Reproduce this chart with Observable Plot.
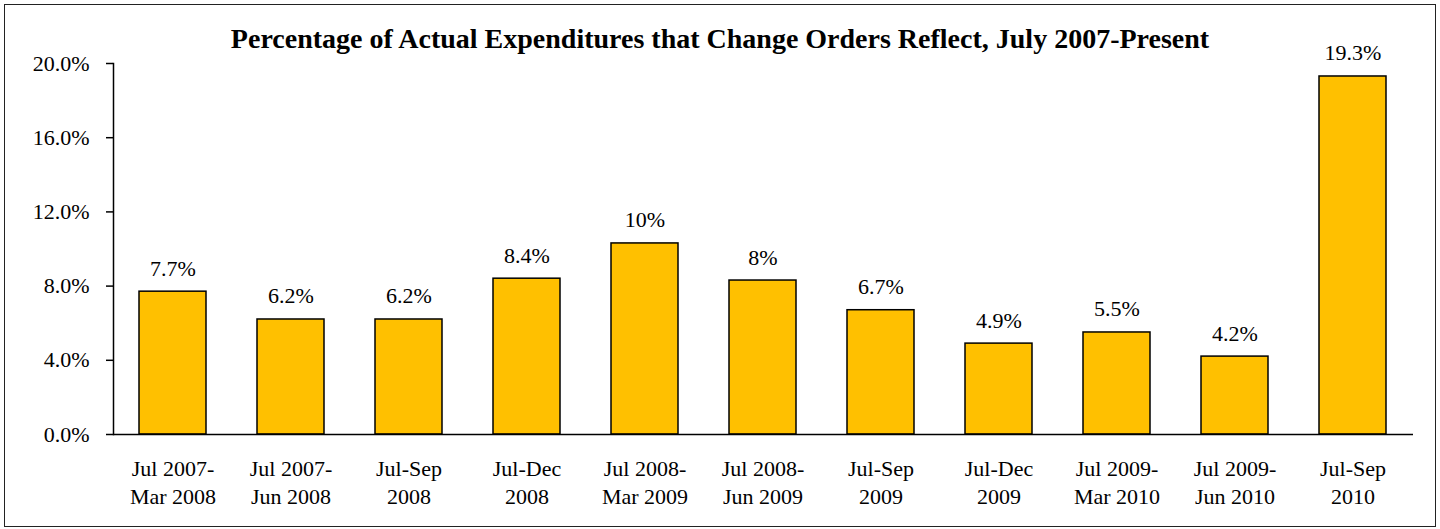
<!DOCTYPE html>
<html>
<head>
<meta charset="utf-8">
<script src="https://cdn.jsdelivr.net/npm/d3@7"></script>
<script src="https://cdn.jsdelivr.net/npm/@observablehq/plot@0.6"></script>
<style>
  html, body { margin: 0; padding: 0; background: #fff; }
  body { position: relative; width: 1440px; height: 529px; overflow: hidden; font-family: "Liberation Serif", "Times New Roman", serif; }
  #chart { position: absolute; left: 0; top: 0; }
  #border { position: absolute; left: 4px; top: 4px; width: 1432px; height: 523px; box-sizing: border-box; border: 1.5px solid #222; pointer-events: none; }
  #title { position: absolute; left: 0; width: 1440px; top: 23px; text-align: center; font-weight: bold; font-size: 28px; color: #000; }
</style>
</head>
<body>
<div id="chart"></div>
<div id="title">Percentage of Actual Expenditures that Change Orders Reflect, July 2007-Present</div>
<div id="border"></div>
<script>
const categories = [
  "Jul 2007-\nMar 2008", "Jul 2007-\nJun 2008", "Jul-Sep\n2008", "Jul-Dec\n2008",
  "Jul 2008-\nMar 2009", "Jul 2008-\nJun 2009", "Jul-Sep\n2009", "Jul-Dec\n2009",
  "Jul 2009-\nMar 2010", "Jul 2009-\nJun 2010", "Jul-Sep\n2010"
];
const values = [7.7, 6.2, 6.2, 8.4, 10.3, 8.3, 6.7, 4.9, 5.5, 4.2, 19.3];
const valueLabels = ["7.7%", "6.2%", "6.2%", "8.4%", "10%", "8%", "6.7%", "4.9%", "5.5%", "4.2%", "19.3%"];
const yTicks = [0, 4, 8, 12, 16, 20];

const data = categories.map((c, i) => ({cat: c, value: values[i], label: valueLabels[i]}));

const chart = Plot.plot({
  width: 1440,
  height: 529,
  marginLeft: 113,
  marginRight: 27,
  marginTop: 63,
  marginBottom: 95,
  style: {fontFamily: "'Liberation Serif', 'Times New Roman', serif", fontSize: "22px", color: "#000", background: "transparent"},
  x: {domain: categories, paddingInner: 0.43, paddingOuter: 0.215, label: null},
  y: {domain: [0, 20], label: null},
  marks: [
    Plot.barY(data, {x: "cat", y: "value", fill: "#FFC000", stroke: "#000", strokeWidth: 1.5}),
    Plot.text(data, {x: "cat", y: "value", text: "label", dy: -16, lineAnchor: "bottom", fontSize: 22, fill: "#000"}),
    Plot.frame({anchor: "left", stroke: "#000", strokeWidth: 1.5}),
    Plot.ruleY([0], {stroke: "#000", strokeWidth: 1.5}),
    Plot.axisY({ticks: yTicks, tickFormat: d => d.toFixed(1) + "%", tickSize: 7, tickPadding: 17, fontSize: 22, label: null, stroke: "#000", strokeWidth: 1.5, color: "#000"}),
    Plot.axisX({tickSize: 0, tickPadding: 21, fontSize: 22, lineHeight: 1.28, label: null, color: "#000"})
  ]
});
document.getElementById("chart").appendChild(chart);
</script>
</body>
</html>
